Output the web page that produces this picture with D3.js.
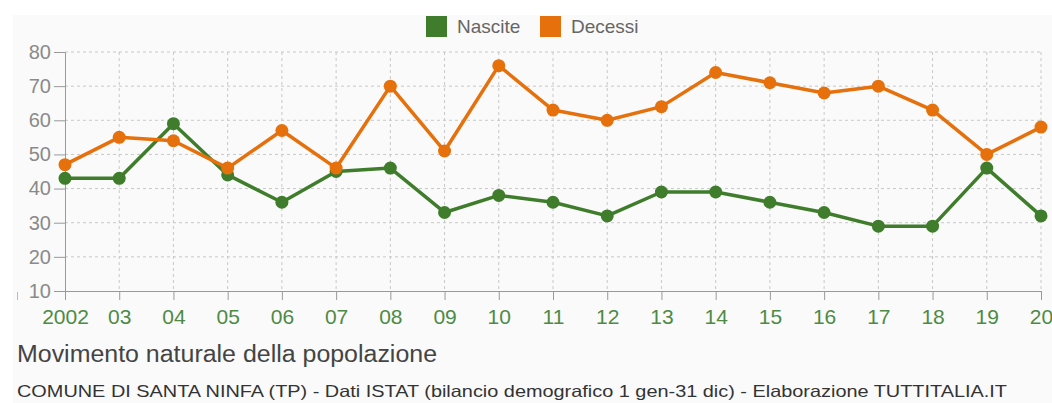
<!DOCTYPE html>
<html>
<head>
<meta charset="utf-8">
<script src="https://cdn.jsdelivr.net/npm/d3@7"></script>
<style>
  html, body { margin: 0; padding: 0; background: #ffffff; }
  svg { display: block; font-family: "Liberation Sans", Arial, Helvetica, sans-serif; }
</style>
</head>
<body>
<svg id="chart" width="1052" height="403"></svg>
<script>
// Anni (asse X) e etichette mostrate
const years = [2002, 2003, 2004, 2005, 2006, 2007, 2008, 2009, 2010, 2011,
               2012, 2013, 2014, 2015, 2016, 2017, 2018, 2019, 2020];
const yearLabels = ["2002", "03", "04", "05", "06", "07", "08", "09", "10", "11",
                    "12", "13", "14", "15", "16", "17", "18", "19", "20"];

// Nati e morti per anno
const nascite = [43, 43, 59, 44, 36, 45, 46, 33, 38, 36, 32, 39, 39, 36, 33, 29, 29, 46, 32];
const decessi = [47, 55, 54, 46, 57, 46, 70, 51, 76, 63, 60, 64, 74, 71, 68, 70, 63, 50, 58];

const yTicks = [10, 20, 30, 40, 50, 60, 70, 80];

const seriesNames = ["Nascite", "Decessi"];
const seriesColors = ["#3f7d2c", "#e5700c"];

const title = "Movimento naturale della popolazione";
const source = "COMUNE DI SANTA NINFA (TP) - Dati ISTAT (bilancio demografico 1 gen-31 dic) - Elaborazione TUTTITALIA.IT";

const svg = d3.select("#chart");
const W = 1052, H = 403;
const m = { left: 65, right: 1041, top: 52, bottom: 291 };

// Sfondo: pannello grigio chiarissimo su fondo bianco
svg.append("rect").attr("x", 0).attr("y", 0).attr("width", W).attr("height", H).attr("fill", "#ffffff");
svg.append("rect").attr("x", 13).attr("y", 15).attr("width", W - 13).attr("height", H - 15).attr("fill", "#fafafa");

const x = d3.scalePoint().domain(years).range([m.left, m.right]);
const y = d3.scaleLinear().domain([10, 80]).range([m.bottom, m.top]);

// Griglia tratteggiata
const grid = svg.append("g");
grid.selectAll("line.h").data(yTicks.filter(v => v > 10)).join("line")
  .attr("x1", m.left).attr("x2", m.right)
  .attr("y1", d => y(d)).attr("y2", d => y(d))
  .attr("stroke", "#c8c8c8").attr("stroke-width", 1).attr("stroke-dasharray", "3,3");
grid.selectAll("line.v").data(years.slice(1)).join("line")
  .attr("x1", d => x(d)).attr("x2", d => x(d))
  .attr("y1", m.top).attr("y2", m.bottom)
  .attr("stroke", "#c8c8c8").attr("stroke-width", 1).attr("stroke-dasharray", "3,3");

// Asse Y
const yAxis = svg.append("g").attr("transform", `translate(${m.left},0)`)
  .call(d3.axisLeft(y).tickValues(yTicks).tickSize(11).tickPadding(3).tickFormat(d3.format("d")));
yAxis.select(".domain").attr("stroke", "#999");
yAxis.selectAll(".tick line").attr("stroke", "#999");
yAxis.selectAll(".tick text").attr("fill", "#8a8a8a").attr("font-size", 20)
  .attr("font-family", "Liberation Sans, Arial, sans-serif");

// Asse X
const xAxis = svg.append("g").attr("transform", `translate(0,${m.bottom})`)
  .call(d3.axisBottom(x).tickSize(9).tickPadding(9).tickFormat((d, i) => yearLabels[i]));
xAxis.select(".domain").attr("stroke", "#999");
xAxis.selectAll(".tick line").attr("stroke", "#999");
xAxis.selectAll(".tick text").attr("fill", "#4e8a44").attr("font-size", 21)
  .attr("font-family", "Liberation Sans, Arial, sans-serif");

// Piccolo segno a sinistra dell'asse
svg.append("line").attr("x1", 17.5).attr("x2", 17.5).attr("y1", 292).attr("y2", 300)
  .attr("stroke", "#bbb").attr("stroke-width", 1);

// Linee e punti
const line = d3.line().x((d, i) => x(years[i])).y(d => y(d));
[nascite, decessi].forEach((vals, s) => {
  svg.append("path").datum(vals)
    .attr("d", line).attr("fill", "none")
    .attr("stroke", seriesColors[s]).attr("stroke-width", 3.5)
    .attr("stroke-linejoin", "round");
  svg.append("g").selectAll("circle").data(vals).join("circle")
    .attr("cx", (d, i) => x(years[i])).attr("cy", d => y(d)).attr("r", 6.5)
    .attr("fill", seriesColors[s]);
});

// Legenda
const legendX = [426, 540];
seriesNames.forEach((name, i) => {
  svg.append("rect").attr("x", legendX[i]).attr("y", 16).attr("width", 21).attr("height", 21)
    .attr("fill", seriesColors[i]);
  svg.append("text").attr("x", legendX[i] + 31).attr("y", 33)
    .attr("font-size", 19).attr("fill", "#666").text(name);
});

// Titolo e fonte
svg.append("text").attr("x", 17).attr("y", 362)
  .attr("font-size", 23).attr("fill", "#444")
  .attr("textLength", 420).attr("lengthAdjust", "spacingAndGlyphs").text(title);
svg.append("text").attr("x", 17).attr("y", 397)
  .attr("font-size", 16.5).attr("fill", "#333")
  .attr("textLength", 990).attr("lengthAdjust", "spacingAndGlyphs").text(source);
</script>
</body>
</html>
